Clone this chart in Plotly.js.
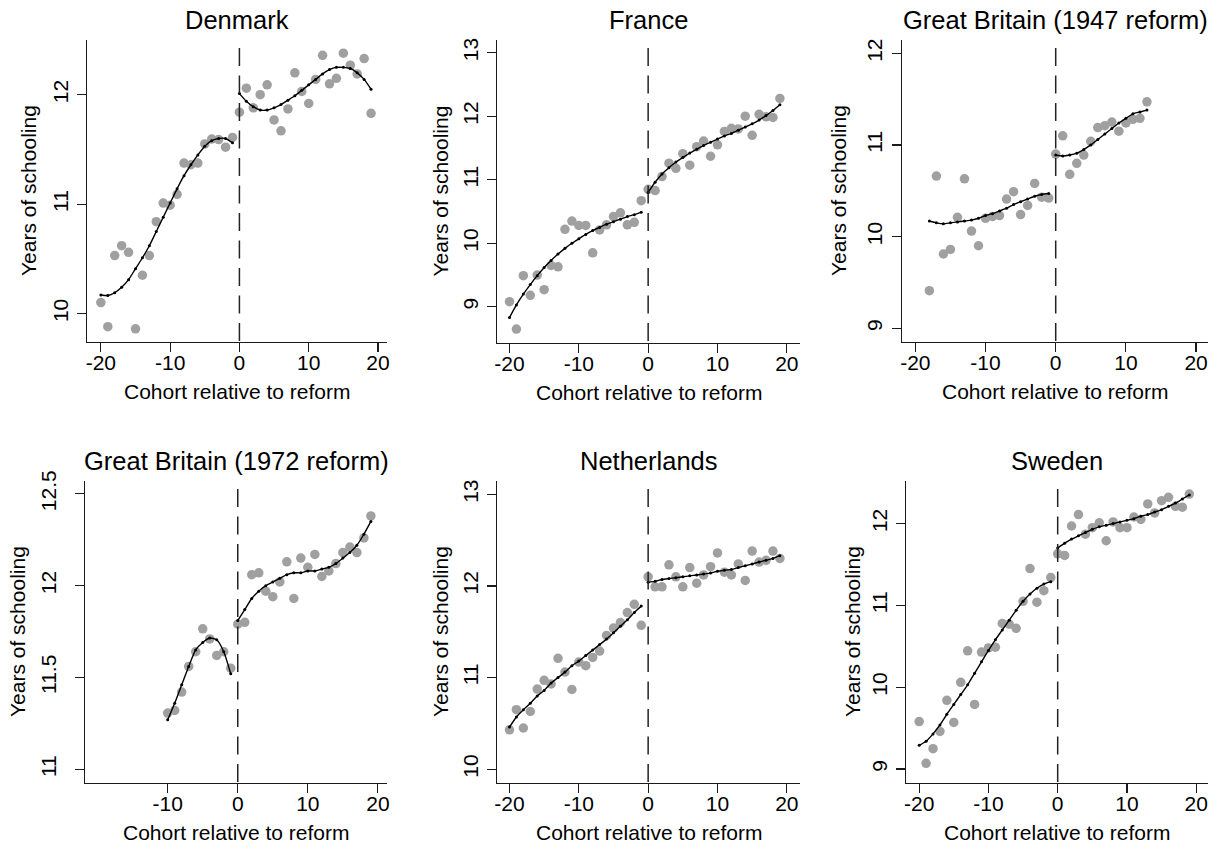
<!DOCTYPE html>
<html>
<head>
<meta charset="utf-8">
<script src="https://cdn.plot.ly/plotly-3.0.1.min.js"></script>
<style>html,body{margin:0;padding:0;background:#fff;}#chart{width:1221px;height:851px;}</style>
</head>
<body>
<div id="chart"></div>
<script>
// ---------- DATA ----------
var cohortsPre20 = [-20,-19,-18,-17,-16,-15,-14,-13,-12,-11,-10,-9,-8,-7,-6,-5,-4,-3,-2,-1];
var cohortsPost20 = [0,1,2,3,4,5,6,7,8,9,10,11,12,13,14,15,16,17,18,19];
var cohortsPre18 = [-18,-17,-16,-15,-14,-13,-12,-11,-10,-9,-8,-7,-6,-5,-4,-3,-2,-1];
var cohortsPost14 = [0,1,2,3,4,5,6,7,8,9,10,11,12,13];
var cohortsPre10 = [-10,-9,-8,-7,-6,-5,-4,-3,-2,-1];

var countries = ["Denmark", "France", "Great Britain (1947 reform)", "Great Britain (1972 reform)", "Netherlands", "Sweden"];

// Denmark
var dkPre = [10.10,9.88,10.53,10.62,10.56,9.86,10.35,10.53,10.84,11.01,10.99,11.09,11.375,11.36,11.375,11.55,11.595,11.59,11.52,11.61];
var dkPost = [11.84,12.06,11.88,12.00,12.09,11.77,11.67,11.87,12.20,12.03,11.92,12.14,12.36,12.10,12.15,12.38,12.27,12.19,12.33,11.83];
var dkFitPre = [10.17,10.165,10.19,10.24,10.31,10.41,10.51,10.62,10.75,10.88,11.01,11.14,11.26,11.36,11.45,11.53,11.58,11.60,11.60,11.56];
var dkFitPost = [12.01,11.94,11.89,11.86,11.86,11.88,11.91,11.95,11.99,12.04,12.09,12.14,12.19,12.23,12.25,12.25,12.24,12.20,12.14,12.05];

// France
var frPre = [9.08,8.65,9.49,9.18,9.50,9.27,9.65,9.63,10.22,10.35,10.28,10.28,9.85,10.21,10.29,10.42,10.48,10.29,10.33,10.67];
var frPost = [10.85,10.83,11.05,11.26,11.18,11.41,11.23,11.52,11.61,11.37,11.55,11.76,11.81,11.80,12.00,11.70,12.03,11.99,11.98,12.28];
var frFitPre = [8.83,9.03,9.20,9.35,9.49,9.62,9.73,9.83,9.92,10.00,10.07,10.14,10.20,10.25,10.30,10.34,10.38,10.42,10.45,10.49];
var frFitPost = [10.80,10.96,11.09,11.19,11.28,11.35,11.42,11.48,11.54,11.59,11.64,11.69,11.73,11.78,11.83,11.88,11.94,12.01,12.09,12.18];

// Great Britain (1947 reform)
var gb47Pre = [9.41,10.66,9.81,9.86,10.21,10.63,10.06,9.90,10.20,10.22,10.23,10.41,10.49,10.24,10.34,10.58,10.43,10.42];
var gb47Post = [10.90,11.10,10.68,10.80,10.89,11.04,11.19,11.21,11.25,11.15,11.24,11.28,11.29,11.47];
var gb47FitPre = [10.17,10.15,10.14,10.15,10.16,10.17,10.18,10.20,10.23,10.25,10.28,10.31,10.35,10.38,10.41,10.44,10.46,10.47];
var gb47FitPost = [10.89,10.88,10.89,10.91,10.95,11.00,11.06,11.12,11.18,11.24,11.29,11.34,11.36,11.38];

// Great Britain (1972 reform)
var gb72Pre = [11.306,11.32,11.42,11.56,11.64,11.765,11.71,11.62,11.64,11.55];
var gb72Post = [11.79,11.80,12.06,12.07,11.97,11.94,12.02,12.13,11.93,12.15,12.10,12.17,12.05,12.08,12.12,12.18,12.21,12.18,12.26,12.38];
var gb72FitPre = [11.27,11.36,11.46,11.56,11.65,11.69,11.715,11.705,11.64,11.52];
var gb72FitPost = [11.81,11.87,11.93,11.97,12.00,12.02,12.04,12.06,12.07,12.07,12.08,12.08,12.09,12.10,12.12,12.15,12.18,12.22,12.28,12.35];

// Netherlands
var nlPre = [10.43,10.65,10.45,10.63,10.875,10.97,10.93,11.21,11.06,10.87,11.17,11.13,11.22,11.29,11.46,11.54,11.60,11.71,11.80,11.57];
var nlPost = [12.10,11.99,11.99,12.23,12.10,11.99,12.20,12.03,12.12,12.21,12.36,12.15,12.12,12.24,12.06,12.38,12.26,12.28,12.38,12.30];
var nlFitPre = [10.46,10.57,10.65,10.72,10.80,10.86,10.94,11.00,11.06,11.13,11.18,11.24,11.30,11.36,11.42,11.49,11.56,11.63,11.71,11.78];
var nlFitPost = [12.04,12.05,12.07,12.08,12.09,12.10,12.11,12.12,12.13,12.14,12.16,12.17,12.18,12.20,12.22,12.24,12.26,12.28,12.30,12.33];

// Sweden
var sePre = [9.58,9.07,9.25,9.46,9.84,9.57,10.06,10.445,9.79,10.43,10.48,10.49,10.78,10.77,10.72,11.05,11.45,11.04,11.18,11.34];
var sePost = [11.63,11.61,11.97,12.11,11.87,11.95,12.01,11.79,12.02,11.95,11.95,12.08,12.05,12.24,12.13,12.28,12.32,12.21,12.20,12.36];
var seFitPre = [9.29,9.34,9.43,9.54,9.67,9.79,9.91,10.03,10.17,10.31,10.45,10.58,10.70,10.82,10.94,11.05,11.14,11.21,11.26,11.29];
var seFitPost = [11.70,11.76,11.81,11.85,11.89,11.93,11.96,11.98,12.00,12.02,12.04,12.06,12.09,12.11,12.14,12.17,12.21,12.25,12.30,12.35];

var xTicksFull = [-20,-10,0,10,20];
var xTicksShort = [-10,0,10,20];
var yTicksDK = [10,11,12];
var yTicksFR = [9,10,11,12,13];
var yTicksGB47 = [9,10,11,12];
var yTicksGB72 = [11,11.5,12,12.5];
var yTicksNL = [10,11,12,13];
var yTicksSE = [9,10,11,12];

var yTitle = "Years of schooling";
var xTitle = "Cohort relative to reform";

// ---------- LAYOUT / DRAW ----------
var W = 1221, H = 851;
var FONT = "Arial, 'Liberation Sans', Helvetica, sans-serif";
var AXC = "#1a1a1a";
var PTC = "#a0a0a0";

var panels = [
  {name: countries[0], pre: [cohortsPre20, dkPre, dkFitPre], post: [cohortsPost20, dkPost, dkFitPost],
   px: [87, 387], py: [40, 342], xr: [-22, 21.3], yr: [9.74, 12.5], xt: xTicksFull, yt: yTicksDK, ytx: 28, ys: 0},
  {name: countries[1], pre: [cohortsPre20, frPre, frFitPre], post: [cohortsPost20, frPost, frFitPost],
   px: [497, 800], py: [40, 343], xr: [-21.8, 21.9], yr: [8.43, 13.2], xt: xTicksFull, yt: yTicksFR, ytx: 440, ys: 0},
  {name: countries[2], pre: [cohortsPre18, gb47Pre, gb47FitPre], post: [cohortsPost14, gb47Post, gb47FitPost],
   px: [902, 1208], py: [40, 342], xr: [-21.9, 21.7], yr: [8.85, 12.145], xt: xTicksFull, yt: yTicksGB47, ytx: 838, ys: 1},
  {name: countries[3], pre: [cohortsPre10, gb72Pre, gb72FitPre], post: [cohortsPost20, gb72Post, gb72FitPost],
   px: [85, 387], py: [481, 783], xr: [-21.8, 21.3], yr: [10.925, 12.57], xt: xTicksShort, yt: yTicksGB72, ytx: 17, ys: 10},
  {name: countries[4], pre: [cohortsPre20, nlPre, nlFitPre], post: [cohortsPost20, nlPost, nlFitPost],
   px: [497, 800], py: [481, 783], xr: [-21.8, 21.9], yr: [9.85, 13.145], xt: xTicksFull, yt: yTicksNL, ytx: 440, ys: 0},
  {name: countries[5], pre: [cohortsPre20, sePre, seFitPre], post: [cohortsPost20, sePost, seFitPost],
   px: [906, 1208], py: [481, 783], xr: [-21.9, 21.7], yr: [8.83, 12.52], xt: xTicksFull, yt: yTicksSE, ytx: 852, ys: 0}
];

var traces = [];
var layout = {
  width: W, height: H,
  margin: {l: 0, r: 0, t: 0, b: 0},
  paper_bgcolor: "#fff", plot_bgcolor: "#fff",
  showlegend: false,
  font: {family: FONT, color: "#000", size: 21},
  annotations: [], shapes: []
};

panels.forEach(function (p, i) {
  var k = i + 1;
  var xa = "x" + (k === 1 ? "" : k), ya = "y" + (k === 1 ? "" : k);
  var xkey = "xaxis" + (k === 1 ? "" : k), ykey = "yaxis" + (k === 1 ? "" : k);
  [p.pre, p.post].forEach(function (seg) {
    traces.push({x: seg[0], y: seg[1], xaxis: xa, yaxis: ya, type: "scatter", mode: "markers",
      marker: {color: PTC, size: 9.5, line: {width: 0}}, hoverinfo: "x+y", cliponaxis: false});
  });
  [p.pre, p.post].forEach(function (seg) {
    traces.push({x: seg[0], y: seg[2], xaxis: xa, yaxis: ya, type: "scatter", mode: "lines+markers",
      line: {color: "#000", width: 1.4, shape: "spline", smoothing: 0.6},
      marker: {color: "#000", size: 3}, hoverinfo: "x+y", cliponaxis: false});
  });
  var common = {showgrid: false, zeroline: false, showline: true, linecolor: AXC, linewidth: 1.2,
    ticks: "outside", ticklen: 9, tickwidth: 1.2, tickcolor: AXC,
    tickfont: {family: FONT, size: 21, color: "#000"}, fixedrange: true};
  layout[xkey] = Object.assign({}, common, {
    domain: [p.px[0] / W, p.px[1] / W], anchor: ya, range: p.xr, ticklabelstandoff: -7,
    tickmode: "array", tickvals: p.xt, ticktext: p.xt.map(String)});
  layout[ykey] = Object.assign({}, common, {
    domain: [1 - p.py[1] / H, 1 - p.py[0] / H], anchor: xa, range: p.yr, ticklabelstandoff: p.ys,
    tickmode: "array", tickvals: p.yt, ticktext: p.yt.map(String), tickangle: -90});
  var cx = (p.px[0] + p.px[1]) / 2 / W;
  // panel title
  layout.annotations.push({text: p.name, xref: "paper", yref: "paper", x: cx, y: 1 - (p.py[0] - 20) / H,
    xanchor: "center", yanchor: "middle", showarrow: false, font: {family: FONT, size: 25.5, color: "#000"}});
  // x axis title
  layout.annotations.push({text: xTitle, xref: "paper", yref: "paper", x: cx, y: 1 - (p.py[1] + 49) / H,
    xanchor: "center", yanchor: "middle", showarrow: false, font: {family: FONT, size: 21, color: "#000"}});
  // y axis title
  layout.annotations.push({text: yTitle, xref: "paper", yref: "paper", x: p.ytx / W,
    y: 1 - (p.py[0] + p.py[1]) / 2 / H, textangle: -90,
    xanchor: "center", yanchor: "middle", showarrow: false, font: {family: FONT, size: 21, color: "#000"}});
  // dashed reform line at cohort 0
  var gapTop = 8 / (p.py[1] - p.py[0]);
  layout.shapes.push({type: "line", xref: xa, yref: ya + " domain", x0: 0, x1: 0, y0: 1 - gapTop, y1: 0,
    line: {color: "#222", width: 1.5, dash: "18px,9.5px"}});
});

Plotly.newPlot("chart", traces, layout, {staticPlot: true, displayModeBar: false});
</script>
</body>
</html>
